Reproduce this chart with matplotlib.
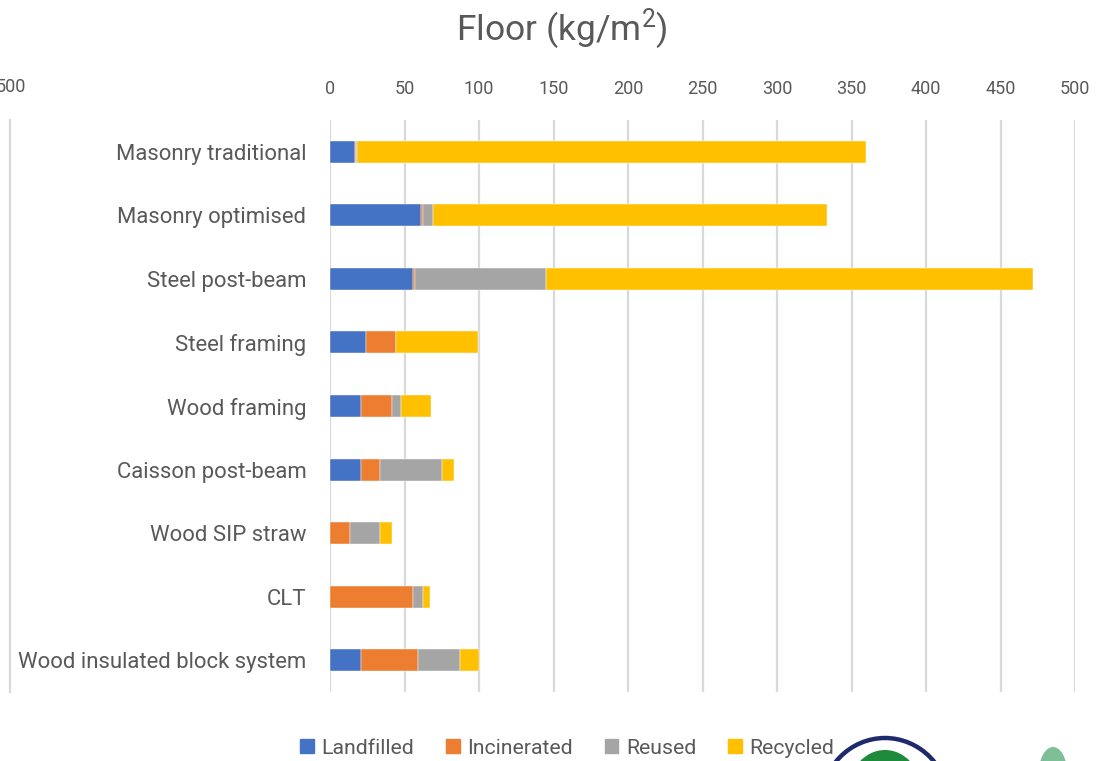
import matplotlib.pyplot as plt
from matplotlib.patches import Ellipse, Rectangle
from matplotlib.lines import Line2D

plt.rcParams['font.family'] = ['Roboto', 'DejaVu Sans']
plt.rcParams['mathtext.fontset'] = 'custom'
plt.rcParams['mathtext.rm'] = 'Roboto'
plt.rcParams['mathtext.it'] = 'Roboto'

# Floor assemblies and their end-of-life masses (kg/m2)
systems = [
    "Masonry traditional",
    "Masonry optimised",
    "Steel post-beam",
    "Steel framing",
    "Wood framing",
    "Caisson post-beam",
    "Wood SIP straw",
    "CLT",
    "Wood insulated block system",
]
landfilled = [17.0, 61.3, 55.9, 24.0, 21.0, 21.0, 0.0, 0.0, 21.0]
incinerated = [0.7, 1.1, 1.4, 20.6, 20.4, 12.6, 13.2, 55.7, 38.3]
reused = [0.7, 6.9, 87.9, 0.0, 6.3, 41.6, 20.4, 6.9, 28.1]
recycled = [341.6, 264.3, 326.6, 54.4, 20.1, 8.2, 8.0, 4.3, 12.6]

series = [
    ("Landfilled", landfilled, "#4472C4"),
    ("Incinerated", incinerated, "#ED7D31"),
    ("Reused", reused, "#A5A5A5"),
    ("Recycled", recycled, "#FFC000"),
]
x_ticks = [0, 50, 100, 150, 200, 250, 300, 350, 400, 450, 500]

W, H = 1115, 761
fig = plt.figure(figsize=(W / 100, H / 100), dpi=100)
ax = fig.add_axes([330 / W, 1 - 692 / H, 745 / W, 572 / H])

text_col = "#595959"
grid_col = "#D9D9D9"

ypos = list(range(len(systems)))
left = [0.0] * len(systems)
for name, vals, col in series:
    ax.barh(ypos, vals, left=left, height=0.345, color=col, label=name,
            edgecolor="white", linewidth=0.3, zorder=3)
    left = [a + b for a, b in zip(left, vals)]

ax.set_xlim(0, 500)
ax.set_ylim(len(systems) - 0.5, -0.5)
ax.set_xticks(x_ticks)
ax.xaxis.tick_top()
ax.tick_params(axis="x", length=0, pad=16, labelsize=13, labelcolor=text_col)
ax.set_yticks(ypos)
ax.set_yticklabels(systems)
ax.tick_params(axis="y", length=0, pad=17, labelsize=15.9, labelcolor=text_col)
ax.grid(axis="x", color=grid_col, linewidth=1.6, zorder=0)
for s in ax.spines.values():
    s.set_visible(False)

# Neighbouring panel's outer gridline and tick label, clipped at the edge
fig.add_artist(Line2D([10 / W, 10 / W], [1 - 120 / H, 1 - 692 / H],
                      transform=fig.transFigure, color=grid_col, linewidth=1.6))
fig.text(11 / W, 1 - 87 / H, "500", ha="center", va="center",
         fontsize=13, color=text_col)

# Title
fig.text(562 / W, 1 - 29 / H, "Floor (kg/m$^2$)", ha="center", va="center",
         fontsize=25.5, color=text_col)

# Legend
handles = [Rectangle((0, 0), 1, 1, color=c) for _, _, c in series]
fig.legend(handles, [n for n, _, _ in series], loc="center",
           bbox_to_anchor=(567 / W, 1 - 748 / H), ncol=4, frameon=False,
           fontsize=15.3, labelcolor=text_col, handlelength=0.65,
           handleheight=0.65, handletextpad=0.35, columnspacing=1.5)

# Partial logo at the lower edge
def fx(px):
    return px / W

def fy(py):
    return 1 - py / H

fig.add_artist(Ellipse((fx(885), fy(790)), 2 * 36 / W, 2 * 40 / H,
                       transform=fig.transFigure, facecolor="#1E8A3C",
                       edgecolor="none", zorder=1))
fig.add_artist(Ellipse((fx(885), fy(804)), 2 * 64 / W, 2 * 66 / H,
                       transform=fig.transFigure, facecolor="none",
                       edgecolor="#1F2A6B", linewidth=3.2, zorder=2))
fig.add_artist(Ellipse((fx(1053), fy(772)), 28 / W, 50 / H,
                       transform=fig.transFigure, facecolor="#5FAF7E",
                       edgecolor="none", alpha=0.8, zorder=1))

fig.savefig("out.png", dpi=100)
